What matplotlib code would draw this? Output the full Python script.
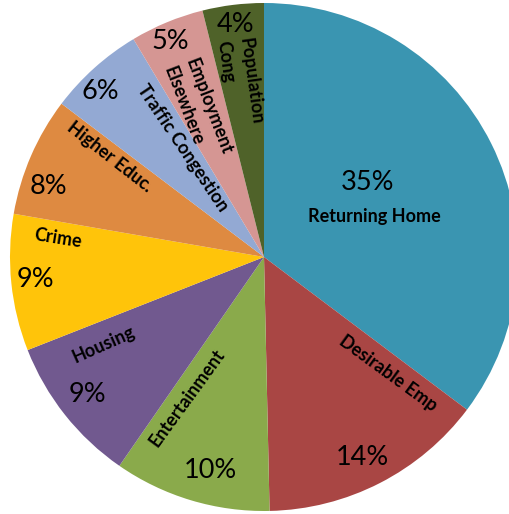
import numpy as np
import matplotlib
matplotlib.use("Agg")
import matplotlib.pyplot as plt

# reasons for moving (share of responses)
reasons = ["Returning Home", "Desirable Emp", "Entertainment", "Housing", "Crime",
           "Higher Educ.", "Traffic Congestion", "Employment\nElsewhere", "Population\nCong"]
shares = [35.3, 14.4, 10.0, 9.4, 8.7, 7.6, 6.1, 4.7, 3.9]
colors = ["#3A95B1", "#A94644", "#8AAA4B", "#71598F", "#FFC40A",
          "#DE8A41", "#93A9D3", "#D59693", "#4F6229"]

# label placement: (angle deg, radius px, rotation) for the name and for the percent
name_pos = [(20.3, 118, 0), (-43.1, 170, -36), (-118.6, 161, 54), (-151.3, 183, 24),
            (174.7, 207, -9), (147.1, 184, -38), (126.6, 136, -56), (114.2, 161, -69),
            (97.9, 176, -82)]
pct_pos = [(35.8, 128), (-63.9, 223), (-104.2, 220), (-142.1, 224), (-174.3, 230),
           (162.0, 227), (134.8, 233), (113.6, 235), (97.1, 234)]

plt.rcParams['font.family'] = ['Lato', 'DejaVu Sans']

fig = plt.figure(figsize=(5.10, 5.14), dpi=100)
ax = fig.add_axes([0, 0, 1, 1])

cx, cy, rad = 264, 257, 254
ax.pie(shares, colors=colors, startangle=90, counterclock=False,
       center=(cx, cy), radius=rad, frame=True,
       wedgeprops=dict(linewidth=0))
ax.set_xlim(0, 510)
ax.set_ylim(0, 514)
ax.set_aspect('equal')
ax.axis('off')

for name, val, (ang, r, rot), (pang, pr) in zip(reasons, shares, name_pos, pct_pos):
    a = np.deg2rad(ang)
    ax.text(cx + r * np.cos(a), cy + r * np.sin(a), name, rotation=rot,
            rotation_mode='anchor', ha='center', va='center', multialignment='left',
            fontsize=13, fontweight='bold', linespacing=1.45, color='black')
    p = np.deg2rad(pang)
    ax.text(cx + pr * np.cos(p), cy + pr * np.sin(p), '%.0f%%' % val,
            ha='center', va='center', fontsize=19.5, color='black')

fig.savefig("out.png", dpi=100)
